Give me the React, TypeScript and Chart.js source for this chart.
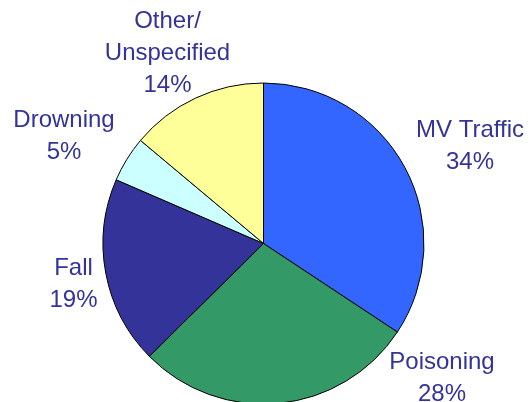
import React, { useEffect, useRef } from "react";
import { Chart, registerables } from "chart.js";

Chart.register(...registerables);

const categories = ["MV Traffic", "Poisoning", "Fall", "Drowning", "Other/Unspecified"];
const shares = [34.3, 28.3, 18.9, 4.6, 13.9];
const sliceColors = ["#3366FF", "#339966", "#333399", "#CCFFFF", "#FFFF99"];
const labelNames = [["MV Traffic"], ["Poisoning"], ["Fall"], ["Drowning"], ["Other/", "Unspecified"]];
// label anchor: center x, first baseline y
const labelAnchors = [
  [470, 137],
  [442, 369],
  [73.5, 275],
  [64, 127],
  [167.5, 28],
];

const labelPlugin = {
  id: "sliceLabels",
  afterDraw(chart: any) {
    const ctx = chart.ctx;
    ctx.save();
    ctx.fillStyle = "#333399";
    ctx.font = '24px "Liberation Sans", Arial, sans-serif';
    ctx.textAlign = "center";
    ctx.textBaseline = "alphabetic";
    labelNames.forEach((names, i) => {
      const lines = [...names, Math.round(shares[i]) + "%"];
      const [x, y] = labelAnchors[i];
      lines.forEach((t, j) => ctx.fillText(t, x, y + j * 32));
    });
    ctx.restore();
  },
};

export default function App() {
  const ref = useRef<HTMLCanvasElement>(null);
  useEffect(() => {
    if (!ref.current) return;
    const chart = new Chart(ref.current, {
      type: "pie",
      data: {
        labels: categories,
        datasets: [
          {
            data: shares,
            backgroundColor: sliceColors,
            borderColor: "#000000",
            borderWidth: 1,
          },
        ],
      },
      options: {
        responsive: false,
        animation: false,
        layout: { padding: { top: 82.5, bottom: 15.5, left: 102.5, right: 104.5 } },
        plugins: { legend: { display: false }, tooltip: { enabled: false } },
      },
      plugins: [labelPlugin],
    });
    return () => chart.destroy();
  }, []);
  return (
    <div style={{ position: "fixed", left: 0, top: 0, width: 529, height: 402, overflow: "hidden", background: "#fff" }}>
      <canvas ref={ref} width={529} height={420} style={{ display: "block" }} />
    </div>
  );
}
